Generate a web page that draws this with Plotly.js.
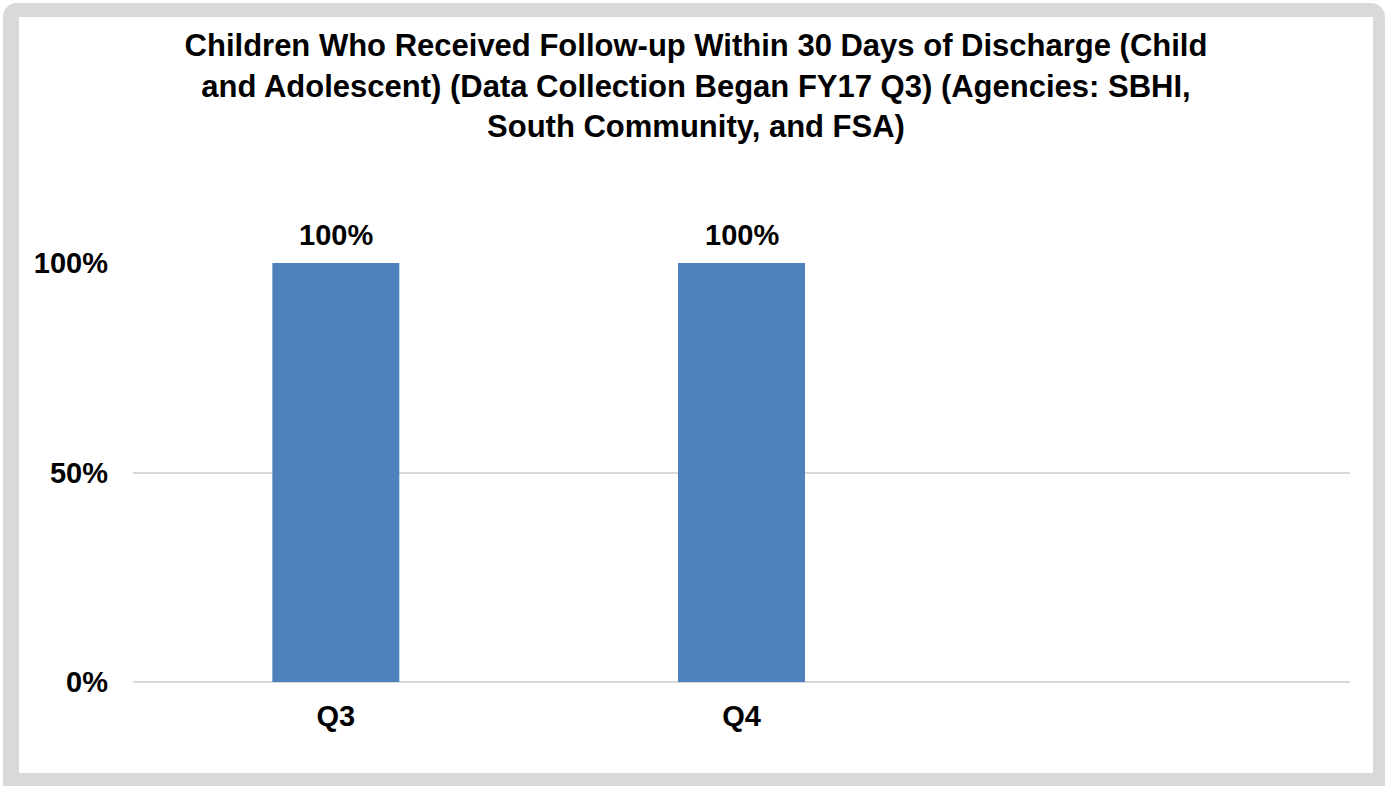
<!DOCTYPE html>
<html>
<head>
<meta charset="utf-8">
<script src="https://cdn.plot.ly/plotly-3.0.1.min.js"></script>
<style>
  html, body { margin: 0; padding: 0; background: #ffffff; width: 1388px; height: 786px; overflow: hidden; }
  #frame { position: absolute; left: 3px; top: 3px; width: 1382px; height: 800px; background: #d9d9d9; border-radius: 14px; }
  #chart { position: absolute; left: 19px; top: 17px; width: 1354px; height: 756px; background: #ffffff; }
</style>
</head>
<body>
<div id="frame"></div>
<div id="chart"></div>
<script>
const chartTitle = "Children Who Received Follow-up Within 30 Days of Discharge (Child<br>and Adolescent) (Data Collection Began FY17 Q3) (Agencies: SBHI,<br>South Community, and FSA)";
const categories = ["Q3", "Q4", " "];
const values = [1.0, 1.0, null];
const yTickVals = [0, 0.5, 1.0];
const yTickText = ["0%", "50%", "100%"];

const FONT = "Liberation Sans, Arial, sans-serif";

const trace = {
  type: "bar",
  x: categories,
  y: values,
  marker: { color: "#4f81bd" },
  hoverinfo: "none"
};

const annotations = categories.map((c, i) => values[i] == null ? null : ({
  x: c, y: values[i], xref: "x", yref: "y",
  text: Math.round(values[i] * 100) + "%",
  showarrow: false, yanchor: "bottom", yshift: 10,
  font: { family: FONT, size: 29, color: "#000000", weight: "bold" }
})).filter(a => a);

const layout = {
  width: 1354, height: 756,
  paper_bgcolor: "#ffffff", plot_bgcolor: "#ffffff",
  margin: { l: 114, r: 23, t: 246, b: 91 },
  bargap: 0.687,
  showlegend: false,
  title: {
    text: chartTitle,
    x: 0.5, xanchor: "center",
    y: 0.948, yanchor: "top", yref: "container",
    font: { family: FONT, size: 31, color: "#000000", weight: "bold" }
  },
  xaxis: {
    type: "category",
    categoryarray: categories, categoryorder: "array",
    showgrid: false, showline: false, zeroline: false,
    ticks: "", ticklabelstandoff: 14,
    tickfont: { family: FONT, size: 29, color: "#000000", weight: "bold" }
  },
  yaxis: {
    range: [0, 1.0],
    tickvals: yTickVals, ticktext: yTickText,
    showgrid: true, gridcolor: "#d9d9d9", gridwidth: 2,
    zeroline: true, zerolinecolor: "#d9d9d9", zerolinewidth: 2,
    showline: false, ticks: "", ticklabelstandoff: 24,
    tickfont: { family: FONT, size: 29, color: "#000000", weight: "bold" }
  },
  annotations: annotations
};

Plotly.newPlot("chart", [trace], layout, { displayModeBar: false, staticPlot: true });
</script>
</body>
</html>
